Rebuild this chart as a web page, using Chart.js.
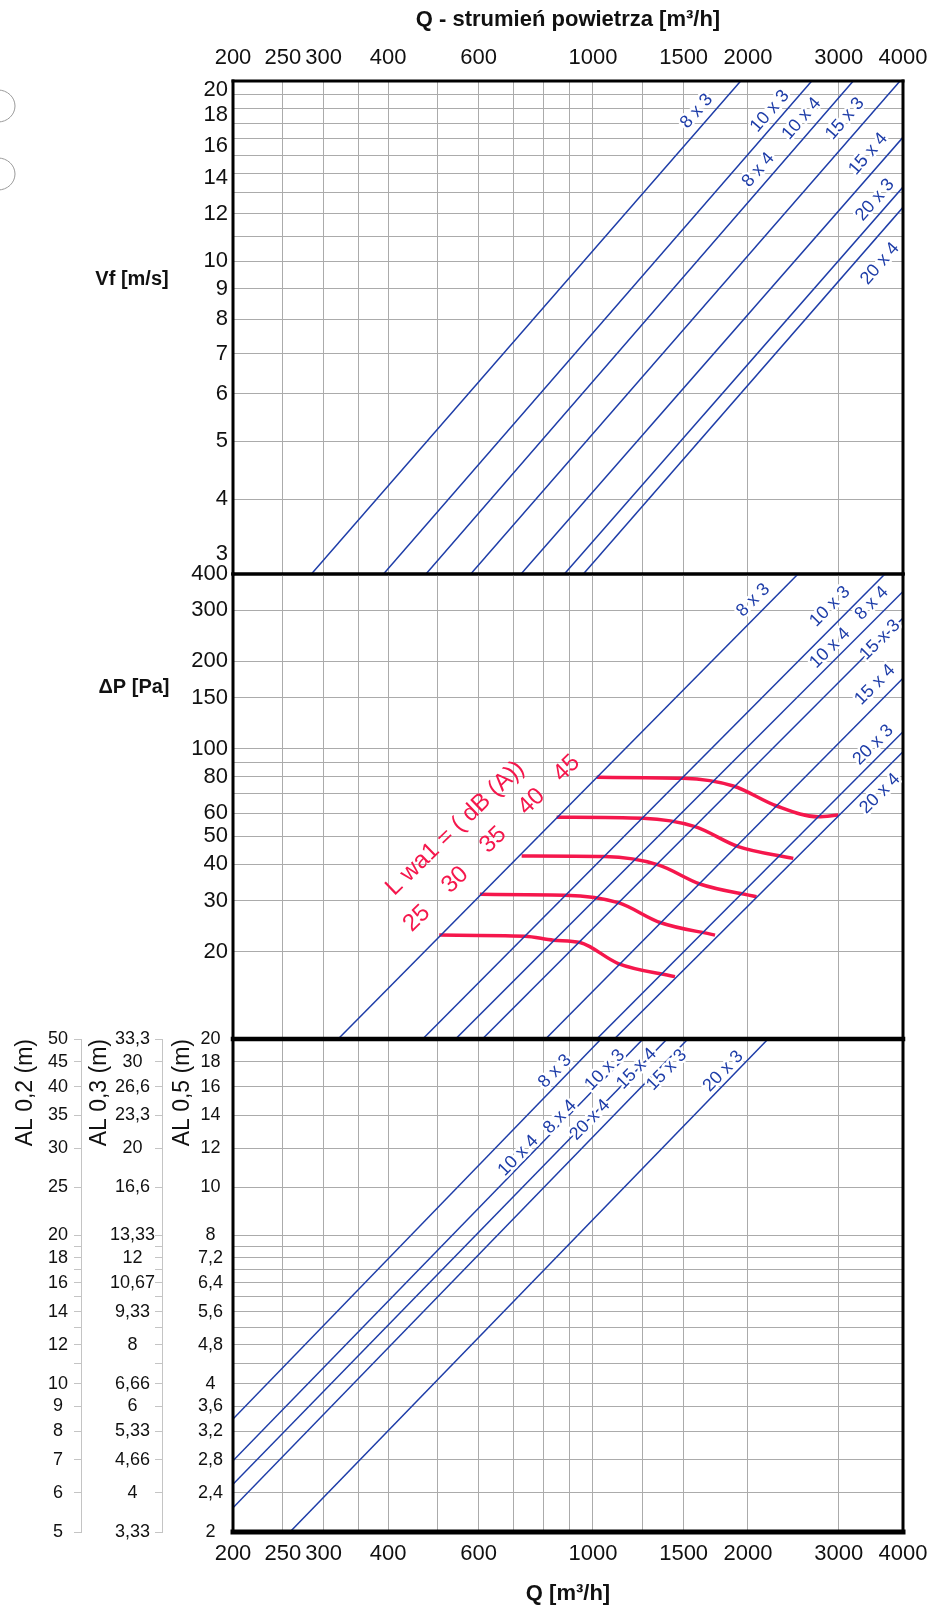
<!DOCTYPE html>
<html>
<head>
<meta charset="utf-8">
<title>Q - strumień powietrza</title>
<script src="https://cdn.jsdelivr.net/npm/chart.js@4.4.1/dist/chart.umd.min.js"></script>
<style>
  html, body { margin: 0; padding: 0; background: #fff; }
  #wrap { position: relative; width: 941px; height: 1608px; }
  #wrap canvas { position: absolute; left: 0; top: 0; }
</style>
</head>
<body>
<div id="wrap">
  <canvas id="vfChart" width="941" height="1608"></canvas>
  <canvas id="dpChart" width="941" height="1608"></canvas>
  <canvas id="alChart" width="941" height="1608"></canvas>
</div>
<script>
// shared Q axis (m3/h)
const qGrid = [200, 250, 300, 350, 400, 500, 600, 700, 800, 900, 1000, 1250, 1500, 2000, 3000, 4000];
const qLabels = [200, 250, 300, 400, 600, 1000, 1500, 2000, 3000, 4000];

// top panel - Vf [m/s]
const vfGrid = [3, 4, 5, 6, 7, 8, 9, 10, 11, 12, 13, 14, 15, 16, 17, 18, 19, 20];
const vfLabels = [3, 4, 5, 6, 7, 8, 9, 10, 12, 14, 16, 18, 20];
const vfLineQ = [[284, 1936], [392, 2660], [474, 3202], [579, 3947], [725, 4000], [880, 4000], [958, 4000]];
const vfLineV = [[3, 20], [3, 20], [3, 20], [3, 20], [3, 16.1], [3, 13.3], [3, 12.3]];
const vfTags = [
  ['8 x 3', 1590, 17.8], ['10 x 3', 2206, 17.8], ['10 x 4', 2543, 17.3], ['15 x 3', 3086, 17.3],
  ['8 x 4', 2094, 14.2], ['15 x 4', 3426, 15.1], ['20 x 3', 3530, 12.65], ['20 x 4', 3610, 9.9]
];

// middle panel - pressure drop [Pa]
const dpGrid = [10, 20, 30, 40, 50, 60, 70, 80, 90, 100, 150, 200, 300, 400];
const dpLabels = [20, 30, 40, 50, 60, 80, 100, 150, 200, 300, 400];
const dpLineQ = [[320, 2502], [467, 3690], [541, 4000], [610, 4000], [809, 4000], [1017, 4000], [1100, 4000]];
const dpLineP = [[10, 400], [10, 400], [10, 348], [10, 282], [10, 175], [10, 114.5], [10, 97.7]];
const dpTags = [
  ['8 x 3', 2048, 325], ['10 x 3', 2886, 309], ['8 x 4', 3478, 317], ['10 x 4', 2886, 222],
  ['15 x 3', 3610, 237], ['15 x 4', 3530, 166], ['20 x 3', 3502, 103], ['20 x 4', 3610, 70]
];

// noise curves L wa1 [dB(A)]
const noiseLevels = [25, 30, 35, 40, 45];
const noiseQ = [
  [503, 738, 838, 944, 1120, 1443],
  [603, 882, 1120, 1350, 1726],
  [727, 1055, 1339, 1613, 2078],
  [850, 1252, 1578, 1915, 2449],
  [1017, 1497, 1873, 2274, 2738, 2995]
];
const noiseP = [
  [22.8, 22.6, 21.9, 21.5, 18.2, 16.4],
  [31.5, 31.3, 29.5, 25.2, 22.8],
  [42.7, 42.5, 39.8, 34.2, 30.9],
  [58.1, 57.6, 53.9, 46.0, 41.9],
  [79.7, 79.1, 74.4, 63.5, 58.3, 59.1]
];
const noiseTags = [
  ['25', 455, 26.0], ['30', 540, 35.3], ['35', 640, 48.5], ['40', 760, 65.7], ['45', 889, 85.6],
  ['L wa1 = ( dB (A))', 540, 53.2]
];

// bottom panel - throw AL, rows in AL 0,2 units
const alRows = [5, 6, 7, 8, 9, 10, 11, 12, 13, 14, 15, 16, 17, 18, 19, 20, 25, 30, 35, 40, 45, 50];
const al02Labels = ['5', '6', '7', '8', '9', '10', '', '12', '', '14', '', '16', '', '18', '', '20', '25', '30', '35', '40', '45', '50'];
const al03Labels = ['3,33', '4', '4,66', '5,33', '6', '6,66', '', '8', '', '9,33', '', '10,67', '', '12', '', '13,33', '16,6', '20', '23,3', '26,6', '30', '33,3'];
const al05Labels = ['2', '2,4', '2,8', '3,2', '3,6', '4', '', '4,8', '', '5,6', '', '6,4', '', '7,2', '', '8', '10', '12', '14', '16', '18', '20'];
const alLineQ = [[200, 1037], [200, 1251], [200, 1393], [200, 1529], [258, 2188]];
const alLineV = [[3.39, 20], [2.79, 20], [2.5, 20], [2.24, 20], [2, 20]];
const alTags = [
  ['8 x 3', 844, 17.2], ['10 x 3', 1055, 17.3], ['15 x 4', 1216, 17.4], ['15 x 3', 1391, 17.3],
  ['20 x 3', 1791, 17.2], ['10 x 4', 716, 11.6], ['8 x 4', 863, 13.9], ['20 x 4', 987, 13.7]
];

const FONT = "'Liberation Sans', Arial, sans-serif";
const BLUE = '#1e3da8';
const RED = '#f5174c';
const GRID = '#ababab';

// labels that sit a little off their grid line in the original (px, + = down)
const vfLabelShift = { 3: -20, 14: 4, 16: 7, 18: 7, 20: 9 };

Chart.defaults.font.family = FONT;
Chart.defaults.color = '#111';

// helpers
function lineSets(qs, vs, yId, color, width, smooth) {
  return qs.map((q, i) => ({
    data: q.map((x, j) => ({ x: x, y: vs[i][j] })),
    yAxisID: yId,
    borderColor: color,
    borderWidth: width,
    pointRadius: 0,
    fill: false,
    tension: smooth ? 0.4 : 0,
    cubicInterpolationMode: smooth ? 'monotone' : 'default'
  }));
}

function qAxis(position, height, showLabels, title, pad) {
  return {
    type: 'logarithmic', position: position, min: 200, max: 4000,
    afterBuildTicks: s => { s.ticks = qGrid.map(v => ({ value: v })); },
    afterFit: s => { s.height = height; },
    ticks: {
      display: showLabels, autoSkip: false, maxRotation: 0, minRotation: 0, padding: pad,
      font: { size: 22 }, color: '#111',
      callback: (v, i) => qLabels.includes(qGrid[i]) ? String(qGrid[i]) : ''
    },
    grid: { color: GRID, lineWidth: 1, drawTicks: false },
    border: { display: false },
    title: title || { display: false }
  };
}

function framePlugin(w) { // top, right, bottom, left
  return {
    id: 'frame',
    afterDatasetsDraw(chart) {
      const { ctx, chartArea: a } = chart;
      const seg = (lw, x1, y1, x2, y2) => {
        ctx.lineWidth = lw; ctx.beginPath(); ctx.moveTo(x1, y1); ctx.lineTo(x2, y2); ctx.stroke();
      };
      ctx.save();
      ctx.strokeStyle = '#000';
      ctx.lineCap = 'square';
      seg(w[0], a.left, a.top, a.right, a.top);
      seg(w[1], a.right, a.top, a.right, a.bottom);
      seg(w[2], a.left, a.bottom, a.right, a.bottom);
      seg(w[3], a.left, a.top, a.left, a.bottom);
      ctx.restore();
    }
  };
}

// rotated labels along the lines; a white halo leaves the small gap seen in the original
function tagPlugin(groups, side) {
  return {
    id: 'tags',
    afterDatasetsDraw(chart) {
      const { ctx, scales } = chart;
      ctx.save();
      ctx.textAlign = 'center';
      ctx.textBaseline = 'middle';
      ctx.lineJoin = 'round';
      groups.forEach(g => {
        ctx.fillStyle = g.color;
        ctx.strokeStyle = '#fff';
        ctx.lineWidth = g.halo;
        ctx.font = g.size + 'px ' + FONT;
        g.tags.forEach(([text, q, v]) => {
          ctx.save();
          ctx.translate(scales.x.getPixelForValue(q), scales[g.axis].getPixelForValue(v));
          ctx.rotate(-g.angle * Math.PI / 180);
          if (g.halo) ctx.strokeText(text, 0, 0);
          ctx.fillText(text, 0, 0);
          ctx.restore();
        });
      });
      if (side) {
        ctx.fillStyle = '#111';
        ctx.font = 'bold 20px ' + FONT;
        ctx.fillText(side.text, side.x, side.y);
      }
      ctx.restore();
    }
  };
}

// stray circles at the left edge of the scan
const edgeMarks = {
  id: 'edgeMarks',
  afterDraw(chart) {
    const ctx = chart.ctx;
    ctx.save();
    ctx.strokeStyle = '#9a9a9a';
    ctx.lineWidth = 1;
    [106, 174].forEach(cy => {
      ctx.beginPath();
      ctx.ellipse(-2, cy, 17, 16, 0, 0, Math.PI * 2);
      ctx.stroke();
    });
    ctx.restore();
  }
};

const baseOptions = {
  responsive: false,
  animation: false,
  devicePixelRatio: 1,
  events: [],
  plugins: { legend: { display: false }, tooltip: { enabled: false } }
};

// top chart: Vf
new Chart(document.getElementById('vfChart'), {
  type: 'line',
  data: { datasets: lineSets(vfLineQ, vfLineV, 'y', BLUE, 1.5, false) },
  options: Object.assign({}, baseOptions, {
    layout: { padding: { top: 0, right: 38, bottom: 1034, left: 0 } },
    scales: {
      x: qAxis('top', 81, true, {
        display: true, text: 'Q - strumień powietrza [m\u00b3/h]',
        font: { size: 22, weight: 'bold' }, color: '#111', padding: { top: 7, bottom: 0 }
      }, 10),
      y: {
        type: 'logarithmic', position: 'left', min: 3, max: 20,
        afterBuildTicks: s => { s.ticks = vfGrid.map(v => ({ value: v })); },
        afterFit: s => { s.width = 233; },
        ticks: {
          autoSkip: false, padding: 5, color: '#111',
          font: c => {
            const s = c.tick ? vfLabelShift[c.tick.value] : 0;
            return s ? { size: 22, lineHeight: (2 * Math.abs(s)) + 'px' } : { size: 22 };
          },
          callback: (v, i) => {
            const g = vfGrid[i];
            if (!vfLabels.includes(g)) return '';
            const s = vfLabelShift[g];
            if (s > 0) return ['', String(g)];
            if (s < 0) return [String(g), ''];
            return String(g);
          }
        },
        grid: { color: GRID, lineWidth: 1, drawTicks: false },
        border: { display: false }
      }
    }
  }),
  plugins: [framePlugin([3, 3, 3, 3]),
    tagPlugin([{ tags: vfTags, axis: 'y', color: BLUE, size: 18, angle: 49, halo: 5 }], { text: 'Vf [m/s]', x: 132, y: 279 }),
    edgeMarks]
});

// middle chart: pressure drop + noise
new Chart(document.getElementById('dpChart'), {
  type: 'line',
  data: {
    datasets: lineSets(dpLineQ, dpLineP, 'y', BLUE, 1.5, false)
      .concat(lineSets(noiseQ, noiseP, 'y', RED, 3.5, true))
  },
  options: Object.assign({}, baseOptions, {
    layout: { padding: { top: 574, right: 38, bottom: 569, left: 0 } },
    scales: {
      x: qAxis('bottom', 0, false, null, 0),
      y: {
        type: 'logarithmic', position: 'left', min: 10, max: 400,
        afterBuildTicks: s => { s.ticks = dpGrid.map(v => ({ value: v })); },
        afterFit: s => { s.width = 233; },
        ticks: {
          autoSkip: false, padding: 5, color: '#111', font: { size: 22 },
          callback: (v, i) => dpLabels.includes(dpGrid[i]) ? String(dpGrid[i]) : ''
        },
        grid: { color: GRID, lineWidth: 1, drawTicks: false },
        border: { display: false }
      }
    }
  }),
  plugins: [framePlugin([3, 3, 4, 3]),
    tagPlugin([
      { tags: dpTags, axis: 'y', color: BLUE, size: 18, angle: 45, halo: 5 },
      { tags: noiseTags, axis: 'y', color: RED, size: 24, angle: 44, halo: 0 }
    ], { text: '\u0394P [Pa]', x: 134, y: 687 })]
});

// bottom chart: throw
function alAxis(weight, min, max, factor, labels, width, opts) {
  return {
    type: 'logarithmic', position: 'left', weight: weight, min: min, max: max,
    afterBuildTicks: s => { s.ticks = alRows.map(v => ({ value: v / factor })); },
    afterFit: s => { s.width = width; },
    ticks: {
      autoSkip: false, crossAlign: 'center', padding: opts.pad, color: '#111', font: { size: 18 },
      callback: (v, i) => labels[i]
    },
    grid: opts.grid,
    border: opts.border,
    title: {
      display: true, text: opts.title, align: 'end', color: '#111',
      font: { size: 23 }, padding: { top: opts.titlePad, bottom: 0 }
    }
  };
}

new Chart(document.getElementById('alChart'), {
  type: 'line',
  data: { datasets: lineSets(alLineQ, alLineV, 'al05', BLUE, 1.5, false) },
  options: Object.assign({}, baseOptions, {
    layout: { padding: { top: 1039, right: 38, bottom: 0, left: 0 } },
    scales: {
      x: qAxis('bottom', 76, true, {
        display: true, text: 'Q [m\u00b3/h]',
        font: { size: 22, weight: 'bold' }, color: '#111', padding: { top: 0, bottom: 1 }
      }, 9),
      al05: alAxis(0, 2, 20, 2.5, al05Labels, 71, {
        pad: 10, titlePad: 7, title: 'AL 0,5 (m)',
        grid: { color: GRID, lineWidth: 1, drawTicks: false },
        border: { display: false }
      }),
      al03: alAxis(1, 5 / 1.5, 50 / 1.5, 1.5, al03Labels, 81, {
        pad: 0, titlePad: 5, title: 'AL 0,3 (m)',
        grid: { drawOnChartArea: false, drawTicks: true, tickLength: 7, tickColor: '#c4c4c4' },
        border: { display: true, color: '#c4c4c4', width: 1 }
      }),
      al02: alAxis(2, 5, 50, 1, al02Labels, 81, {
        pad: 6, titlePad: 12, title: 'AL 0,2 (m)',
        grid: { drawOnChartArea: false, drawTicks: true, tickLength: 7, tickColor: '#c4c4c4' },
        border: { display: true, color: '#c4c4c4', width: 1 }
      })
    }
  }),
  plugins: [framePlugin([4.5, 3, 5, 3]),
    tagPlugin([{ tags: alTags, axis: 'al05', color: BLUE, size: 18, angle: 46, halo: 5 }], null)]
});
</script>
</body>
</html>
